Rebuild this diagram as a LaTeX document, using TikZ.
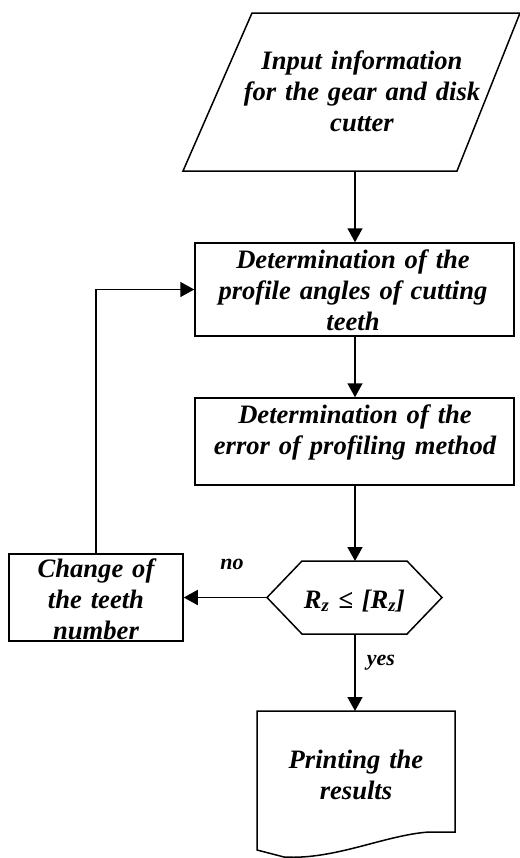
\documentclass[tikz,border=0pt]{standalone}
\usepackage{fontspec}
\setmainfont{Liberation Serif}
\usetikzlibrary{arrows.meta}
\newcommand\bigfont{\fontsize{26.6bp}{31bp}\selectfont\bfseries\itshape}
\newcommand\lblfont{\fontsize{22bp}{26bp}\selectfont\bfseries\itshape}
\begin{document}
\begin{tikzpicture}[x=1bp,y=-1bp, line width=1.5bp,
  arr/.style={-{Triangle[length=14bp,width=15bp]}},
  box/.style={draw, rectangle, inner sep=0pt, minimum width=#1},
  txt/.style={anchor=base, align=center, inner sep=0pt, text width=#1, font=\bigfont},
  lbl/.style={font=\lblfont, inner sep=0pt, anchor=base}]
\useasboundingbox (0,0) rectangle (520,858);
% input parallelogram
\draw (252,13) -- (520,13) -- (457,171) -- (183,171) -- cycle;
\coordinate (pb) at (355,171);
\node[txt=300bp] (tin) at (362,69) {Input information\\for the gear and disk\\cutter};
% rectangles
\node[box=319bp, minimum height=93bp] (r1) at (354.5,289.5) {};
\node[txt=300bp] (t1) at (353,268) {Determination of the\\profile angles of cutting\\teeth};
\node[box=319bp, minimum height=87bp] (r2) at (354.5,441.5) {};
\node[txt=300bp] (t2) at (355,423) {Determination of the\\error of profiling method};
\node[box=174bp, minimum height=87bp] (ch) at (96,597.5) {};
\node[txt=170bp] (tc) at (96,577) {Change of\\the teeth\\number};
% hexagon
\draw (267,597.5) -- (302,561) -- (407,561) -- (442,597.5) -- (407,634) -- (302,634) -- cycle;
\coordinate (ht) at (355,561);
\coordinate (hl) at (267,597.5);
\coordinate (hb) at (355,634);
\node[txt=200bp] (th) at (354.5,608) {R\textsubscript{z} ≤ [R\textsubscript{z}]};
% document
\draw (257,711) -- (455,711) -- (455,832) -- (429,832)
  .. controls (385,835) and (335,860) .. (284,857) -- (257,850) -- cycle;
\coordinate (dt) at (355,711);
\node[txt=300bp] (td) at (356,768) {Printing the\\results};
% labels
\node[lbl] (no) at (232,569) {no};
\node[lbl] (yes) at (381,665) {yes};
% connectors
\draw[arr] (pb) -- (pb |- r1.north);
\draw[arr] (r1.south -| pb) -- (r2.north -| pb);
\draw[arr] (r2.south -| pb) -- (ht);
\draw[arr] (hl) -- (ch.east);
\draw[arr] (ch.north) |- (r1.west);
\draw[arr] (hb) -- (dt);
\end{tikzpicture}
\end{document}
